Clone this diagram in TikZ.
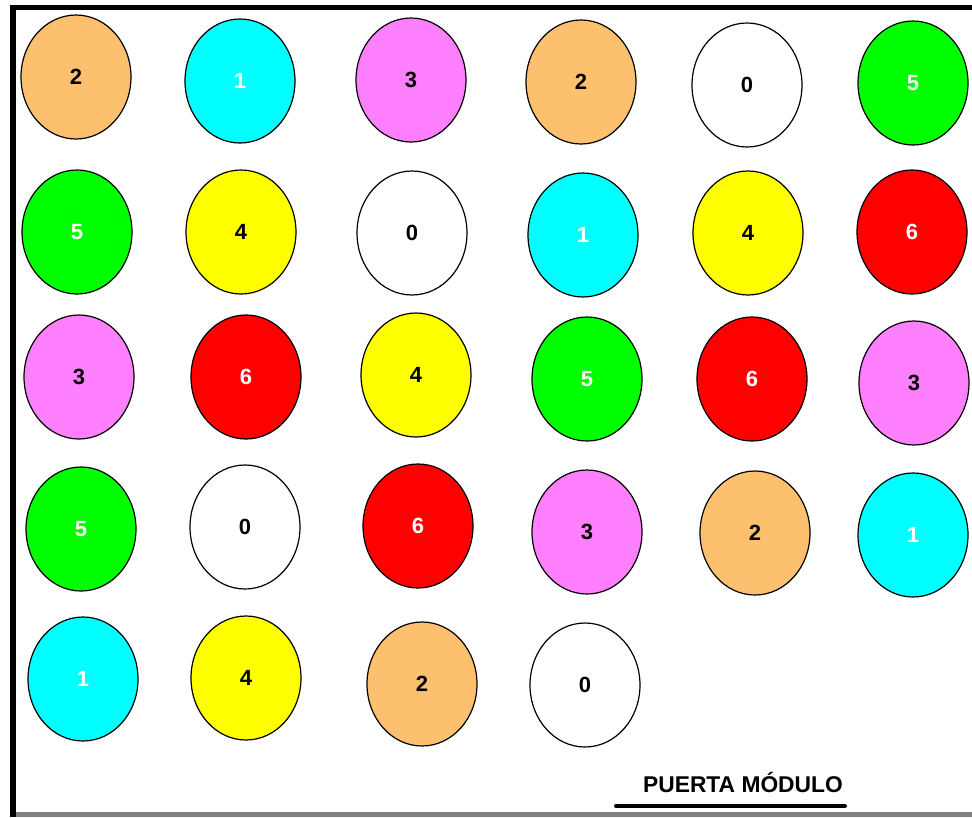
\documentclass[tikz,border=0pt]{standalone}
\usepackage{fontspec}
\setmainfont{Liberation Sans}
\usetikzlibrary{shapes.geometric}
\definecolor{corange}{RGB}{252,192,110}
\definecolor{ccyan}{RGB}{0,255,255}
\definecolor{cpink}{RGB}{255,128,255}
\definecolor{cgreen}{RGB}{0,255,0}
\definecolor{cyellow}{RGB}{255,255,0}
\definecolor{cred}{RGB}{255,0,0}
\definecolor{cbar}{RGB}{128,128,128}
\begin{document}
\begin{tikzpicture}[x=1pt,y=-1pt,
  ball/.style={ellipse,draw=black,line width=1.2pt,minimum width=110pt,minimum height=124pt,inner sep=0pt,
     font=\fontsize{22}{26}\selectfont\bfseries},
  b2/.style={ball,fill=corange,text=black},
  b1/.style={ball,fill=ccyan,text=white},
  b3/.style={ball,fill=cpink,text=black},
  b0/.style={ball,fill=white,text=black},
  b5/.style={ball,fill=cgreen,text=white},
  b4/.style={ball,fill=cyellow,text=black},
  b6/.style={ball,fill=cred,text=white},
  lbl/.style={font=\fontsize{22.8}{27}\selectfont\bfseries,inner sep=0pt}]
\useasboundingbox (0,0) rectangle (972,817);
\fill[white] (0,0) rectangle (972,817);
% frame
\fill[black] (10,5) rectangle (972,10);
\fill[black] (10,5) rectangle (16,817);
\fill[cbar] (16,812) rectangle (972,817);
% row 1
\node[b2] (a1) at (76,77) {2};
\node[b1] (a2) at (240,81) {1};
\node[b3] (a3) at (411,80) {3};
\node[b2] (a4) at (581,82) {2};
\node[b0] (a5) at (747,85) {0};
\node[b5] (a6) at (913,83) {5};
% row 2
\node[b5] (b1) at (77,232) {5};
\node[b4] (b2) at (241,232) {4};
\node[b0] (b3) at (412,233) {0};
\node[b1] (b4) at (583,235) {1};
\node[b4] (b5) at (748,233) {4};
\node[b6] (b6) at (912,232) {6};
% row 3
\node[b3] (c1) at (79,377) {3};
\node[b6] (c2) at (246,377) {6};
\node[b4] (c3) at (416,375) {4};
\node[b5] (c4) at (587,379) {5};
\node[b6] (c5) at (752,379) {6};
\node[b3] (c6) at (914,383) {3};
% row 4
\node[b5] (d1) at (81,529) {5};
\node[b0] (d2) at (245,527) {0};
\node[b6] (d3) at (418,526) {6};
\node[b3] (d4) at (587,532) {3};
\node[b2] (d5) at (755,533) {2};
\node[b1] (d6) at (913,535) {1};
% row 5
\node[b1] (e1) at (83,679) {1};
\node[b4] (e2) at (246,678) {4};
\node[b2] (e3) at (422,684) {2};
\node[b0] (e4) at (585,685) {0};
% door
\node[lbl] (door) at (743,782) {PUERTA MÓDULO};
\coordinate (dl) at (616,806);
\coordinate (dr) at (845,806);
\draw[line width=4pt,line cap=round] (dl) -- (dr);
\end{tikzpicture}
\end{document}
